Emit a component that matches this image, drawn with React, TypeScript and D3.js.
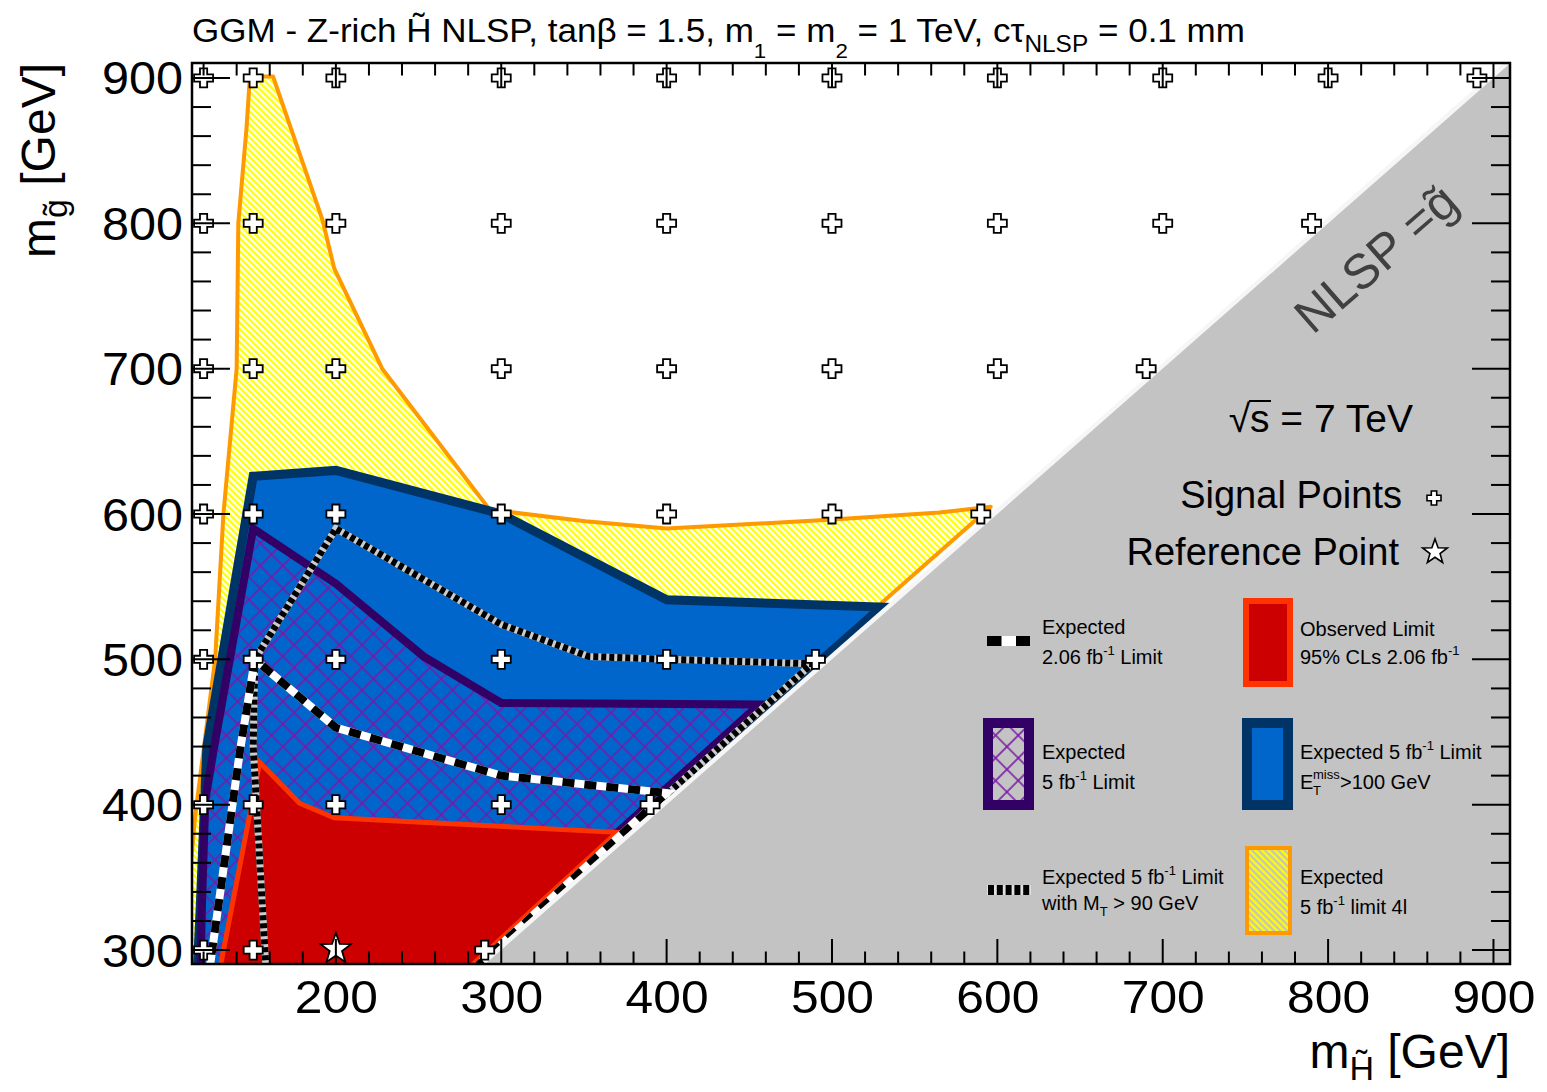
import React from "react";
import * as d3 from "d3";

const WIDTH = 1547;
const HEIGHT = 1092;

// axis ranges (GeV)
const higgsinoRange = [113, 910];
const gluinoRange = [290.4, 910.3];

const xMajorTicks = [200, 300, 400, 500, 600, 700, 800, 900];
const yMajorTicks = [300, 400, 500, 600, 700, 800, 900];

// signal grid: higgsino masses at each gluino mass level
const gluinoLevels = [300, 400, 500, 600, 700, 800, 900];
const higgsinoPerLevel = [
  [120, 150, 290],
  [120, 150, 200, 300, 390],
  [120, 150, 200, 300, 400, 490],
  [120, 150, 200, 300, 400, 500, 590],
  [120, 150, 200, 300, 400, 500, 600, 690],
  [120, 150, 200, 300, 400, 500, 600, 700, 790],
  [120, 150, 200, 300, 400, 500, 600, 700, 800, 890],
];
const referencePoint = [200, 300];

// contours [m_H, m_g]
const expected4lContour = [
  [148, 901], [162, 901], [192, 802], [199, 769], [228, 700], [293, 603],
  [351, 595], [400, 590], [498, 596], [565, 601], [596, 605], [274, 282],
  [100, 282], [100, 330], [110, 330], [115, 393], [127, 500], [132, 600],
  [140, 700], [141, 800], [146, 866],
];
const expectedMETContour = [
  [150, 626], [200, 630], [300, 600], [400, 541], [530, 536], [276, 282],
  [116, 282], [118, 330], [122, 440],
];
const expected5fbContour = [
  [150, 590], [200, 552], [253, 502], [300, 470], [456, 469], [274, 282],
  [118, 282], [119, 330], [121, 403], [126, 437],
];
const observedContour = [
  [154, 429], [178, 401], [199, 391], [370, 381], [275, 282], [129, 282],
];
const expected206Line = [
  [123, 282], [142, 437], [151, 500], [200, 453], [300, 420], [400, 408], [279, 282],
];
const expectedMTLine = [
  [158, 282], [150, 440], [151, 500], [200, 590], [300, 524], [353, 502],
  [400, 500], [488, 497], [278, 282],
];

const FONT = "'Liberation Sans', Arial, Helvetica, sans-serif";

const xs = d3.scaleLinear().domain(higgsinoRange).range([192, 1510]);
const ys = d3.scaleLinear().domain(gluinoRange).range([964, 63]);
const line = d3
  .line<number[]>()
  .x((d) => xs(d[0]))
  .y((d) => ys(d[1]));
const poly = (pts: number[][]) => (line(pts) || "") + "Z";

function crossPath(a: number, b: number) {
  return `M${-b},${-a}L${b},${-a}L${b},${-b}L${a},${-b}L${a},${b}L${b},${b}L${b},${a}L${-b},${a}L${-b},${b}L${-a},${b}L${-a},${-b}L${-b},${-b}Z`;
}
function starPath(R: number, r: number) {
  const pts = d3.range(10).map((i) => {
    const rad = i % 2 === 0 ? R : r;
    const ang = -Math.PI / 2 + (i * Math.PI) / 5;
    return [rad * Math.cos(ang), rad * Math.sin(ang)];
  });
  return "M" + pts.map((p) => p.join(",")).join("L") + "Z";
}

export default function App() {
  const left = xs(higgsinoRange[0]);
  const right = xs(higgsinoRange[1]);
  const top = ys(gluinoRange[1]);
  const bottom = ys(gluinoRange[0]);
  const xMinor = d3.range(120, 901, 20);
  const yMinor = d3.range(300, 901, 20);

  const grayTri = [
    [gluinoRange[0], gluinoRange[0]],
    [higgsinoRange[1], higgsinoRange[1]],
    [higgsinoRange[1], gluinoRange[0]],
  ];

  const signalPts: number[][] = [];
  gluinoLevels.forEach((g, i) => higgsinoPerLevel[i].forEach((h) => signalPts.push([h, g])));

  const cross = crossPath(9.5, 3.6);
  const crossSmall = crossPath(7, 2.7);

  return (
    <svg width={WIDTH} height={HEIGHT} style={{ display: "block", position: "absolute", left: 0, top: 0 }} fontFamily={FONT}>
      <defs>
        <clipPath id="frame">
          <rect x={left} y={top} width={right - left} height={bottom - top} />
        </clipPath>
        <pattern id="hatchY" patternUnits="userSpaceOnUse" width="4.6" height="8" patternTransform="rotate(-45)">
          <rect x="0" y="0" width="2.3" height="8" fill="#ffff00" />
        </pattern>
        <pattern id="hatchX" patternUnits="userSpaceOnUse" width="16" height="16" patternTransform="rotate(45)">
          <path d="M8 0V16M0 8H16" stroke="#7a18a8" strokeWidth="1.6" fill="none" />
        </pattern>
      </defs>
      <rect x={0} y={0} width={WIDTH} height={HEIGHT} fill="#ffffff" />

      <g clipPath="url(#frame)">
        {/* yellow 4l */}
        <path d={poly(expected4lContour)} fill="url(#hatchY)" stroke="#ff9900" strokeWidth={4} strokeLinejoin="round" />
        {/* blue MET */}
        <path d={poly(expectedMETContour)} fill="#0066cc" stroke="#003366" strokeWidth={9} strokeLinejoin="miter" />
        {/* purple hatched */}
        <path d={poly(expected5fbContour)} fill="url(#hatchX)" stroke="#330066" strokeWidth={8} />
        {/* red observed */}
        <path d={poly(observedContour)} fill="#cc0000" stroke="#ff3300" strokeWidth={5} />
        {/* expected MT */}
        <path d={line(expectedMTLine) || ""} fill="none" stroke="#cccccc" strokeWidth={7} />
        <path d={line(expectedMTLine) || ""} fill="none" stroke="#000000" strokeWidth={7} strokeDasharray="5 3" />
        {/* expected 2.06 */}
        <path d={line(expected206Line) || ""} fill="none" stroke="#ffffff" strokeWidth={8} />
        <path d={line(expected206Line) || ""} fill="none" stroke="#000000" strokeWidth={8} strokeDasharray="12 10" />

        {/* kinematically forbidden region */}
        <line
          x1={xs(gluinoRange[0])}
          y1={ys(gluinoRange[0])}
          x2={xs(higgsinoRange[1])}
          y2={ys(higgsinoRange[1])}
          stroke="#f6f6f6"
          strokeWidth={9}
        />
        <path d={poly(grayTri)} fill="#c3c3c3" />
      </g>

      {/* NLSP = gluino */}
      <text
        transform={`translate(1387,271) rotate(-41)`}
        textAnchor="middle"
        fontSize={49}
        fill="#404040"
      >
        NLSP =g̃
      </text>

      {/* energy & markers legend */}
      <text x={1413} y={432} textAnchor="end" fontSize={39} fill="#000">
        √s = 7 TeV
      </text>
      <line x1={1249} x2={1271} y1={401} y2={401} stroke="#000" strokeWidth={2} />
      <text x={1402} y={508} textAnchor="end" fontSize={38} fill="#000">
        Signal Points
      </text>
      <path d={crossSmall} transform="translate(1434,498)" fill="#fff" stroke="#000" strokeWidth={1.6} />
      <text x={1399} y={565} textAnchor="end" fontSize={38} fill="#000">
        Reference Point
      </text>
      <path d={starPath(13, 5.3)} transform="translate(1435,552)" fill="#fff" stroke="#000" strokeWidth={1.6} />

      {/* legend column 1 */}
      <line x1={987} x2={1030} y1={641} y2={641} stroke="#fff" strokeWidth={10} />
      <line x1={987} x2={1030} y1={641} y2={641} stroke="#000" strokeWidth={10} strokeDasharray="14.5 14.5" />
      <text x={1042} y={634} fontSize={20}>Expected</text>
      <text x={1042} y={664} fontSize={20}>
        2.06 fb<tspan dy={-9} fontSize={13}>-1</tspan>
        <tspan dy={9}> Limit</tspan>
      </text>

      <rect x={988} y={723} width={41} height={82} fill="url(#hatchX)" stroke="#330066" strokeWidth={10} />
      <text x={1042} y={759} fontSize={20}>Expected</text>
      <text x={1042} y={789} fontSize={20}>
        5 fb<tspan dy={-9} fontSize={13}>-1</tspan>
        <tspan dy={9}> Limit</tspan>
      </text>

      <line x1={987} x2={1031} y1={890} y2={890} stroke="#e0e0e0" strokeWidth={10} />
      <line x1={988} x2={1031} y1={890} y2={890} stroke="#000" strokeWidth={10} strokeDasharray="6 2.8" />
      <text x={1042} y={884} fontSize={20}>
        Expected 5 fb<tspan dy={-9} fontSize={13}>-1</tspan>
        <tspan dy={9}> Limit</tspan>
      </text>
      <text x={1042} y={910} fontSize={20}>
        with M<tspan dy={6} fontSize={13}>T</tspan>
        <tspan dy={-6}> &gt; 90 GeV</tspan>
      </text>

      {/* legend column 2 */}
      <rect x={1246} y={601} width={44} height={83} fill="#cc0000" stroke="#ff3300" strokeWidth={6} />
      <text x={1300} y={636} fontSize={20}>Observed Limit</text>
      <text x={1300} y={664} fontSize={20}>
        95% CLs 2.06 fb<tspan dy={-9} fontSize={13}>-1</tspan>
      </text>

      <rect x={1247} y={723} width={41} height={82} fill="#0066cc" stroke="#003366" strokeWidth={10} />
      <text x={1300} y={759} fontSize={20}>
        Expected 5 fb<tspan dy={-9} fontSize={13}>-1</tspan>
        <tspan dy={9}> Limit</tspan>
      </text>
      <text x={1300} y={789} fontSize={20}>E</text>
      <text x={1313} y={779} fontSize={13}>miss</text>
      <text x={1313} y={795} fontSize={13}>T</text>
      <text x={1340} y={789} fontSize={20}>&gt;100 GeV</text>

      <rect x={1247} y={848} width={43} height={85} fill="url(#hatchY)" stroke="#ff9900" strokeWidth={4} />
      <text x={1300} y={884} fontSize={20}>Expected</text>
      <text x={1300} y={914} fontSize={20}>
        5 fb<tspan dy={-9} fontSize={13}>-1</tspan>
        <tspan dy={9}> limit 4l</tspan>
      </text>

      {/* signal points */}
      {signalPts.map((p, i) => (
        <path key={i} d={cross} transform={`translate(${xs(p[0])},${ys(p[1])})`} fill="#fff" stroke="#000" strokeWidth={1.8} />
      ))}
      <path
        d={starPath(16, 6.5)}
        transform={`translate(${xs(referencePoint[0])},${ys(referencePoint[1]) - 1})`}
        fill="#fff"
        stroke="#000"
        strokeWidth={1.8}
      />

      {/* axes frame and ticks */}
      <g stroke="#000" strokeWidth={2}>
        {xMinor.map((v) => {
          const major = xMajorTicks.includes(v);
          const L = major ? 25 : 12.5;
          return (
            <g key={"x" + v}>
              <line x1={xs(v)} x2={xs(v)} y1={bottom} y2={bottom - L} />
              <line x1={xs(v)} x2={xs(v)} y1={top} y2={top + L} />
            </g>
          );
        })}
        {yMinor.map((v) => {
          const major = yMajorTicks.includes(v);
          const L = major ? 38 : 19;
          return (
            <g key={"y" + v}>
              <line x1={left} x2={left + L} y1={ys(v)} y2={ys(v)} />
              <line x1={right} x2={right - L} y1={ys(v)} y2={ys(v)} />
            </g>
          );
        })}
        <rect x={left} y={top} width={right - left} height={bottom - top} fill="none" strokeWidth={2.5} />
      </g>

      {/* tick labels */}
      {xMajorTicks.map((v) => (
        <text key={"xl" + v} x={xs(v) - 41} y={1013} fontSize={47} textLength={83} lengthAdjust="spacingAndGlyphs">
          {v}
        </text>
      ))}
      {yMajorTicks.map((v) => (
        <text key={"yl" + v} x={102} y={ys(v) + 16.5} fontSize={47} textLength={81} lengthAdjust="spacingAndGlyphs">
          {v}
        </text>
      ))}

      {/* axis titles */}
      <text x={1510} y={1068} textAnchor="end" fontSize={48}>
        m<tspan dy={12} fontSize={34}>H̃</tspan>
        <tspan dy={-12}> [GeV]</tspan>
      </text>
      <text transform="translate(55,63) rotate(-90)" textAnchor="end" fontSize={48}>
        m<tspan dy={12} fontSize={34}>g̃</tspan>
        <tspan dy={-12}> [GeV]</tspan>
      </text>

      {/* title */}
      <text x={192} y={42} fontSize={33} textLength={1053} lengthAdjust="spacingAndGlyphs">
        GGM - Z-rich H̃ NLSP, tanβ = 1.5, m<tspan dy={16} fontSize={21}>1</tspan>
        <tspan dy={-16}> = m</tspan>
        <tspan dy={16} fontSize={21}>2</tspan>
        <tspan dy={-16}> = 1 TeV, cτ</tspan>
        <tspan dy={10} fontSize={23}>NLSP</tspan>
        <tspan dy={-10}> = 0.1 mm</tspan>
      </text>
    </svg>
  );
}
